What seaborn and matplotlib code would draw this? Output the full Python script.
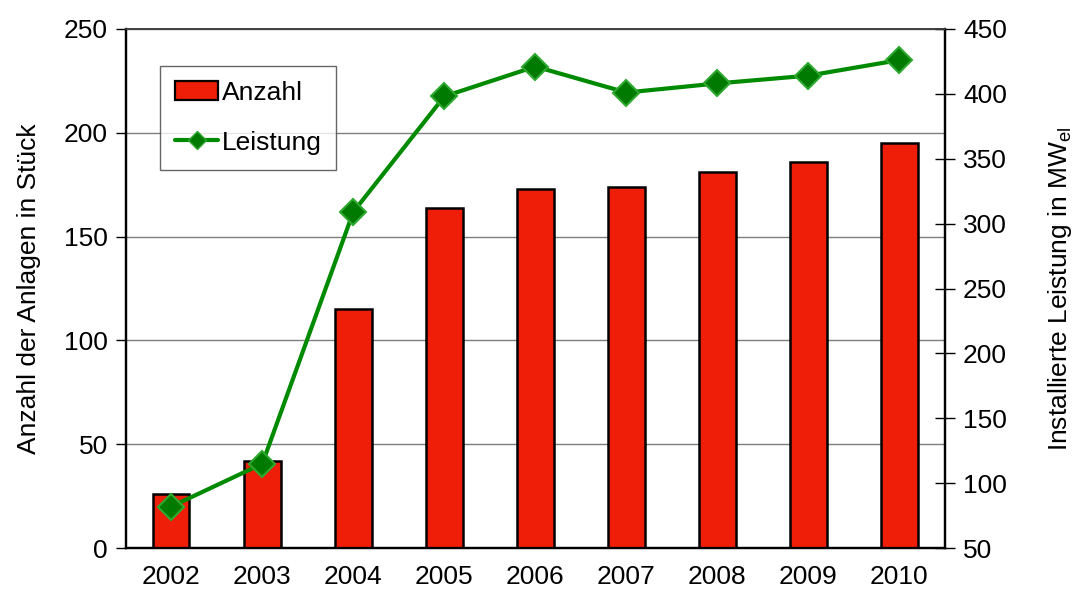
import numpy as np
import matplotlib
matplotlib.use("Agg")
import matplotlib.pyplot as plt
from matplotlib.lines import Line2D
from matplotlib.patches import Patch
import seaborn as sns

# data
years = ["2002", "2003", "2004", "2005", "2006", "2007", "2008", "2009", "2010"]
anzahl = [26, 42, 115, 164, 173, 174, 181, 186, 195]
leistung = [82, 115, 309, 398, 421, 401, 408, 414, 426]

sns.set_style("white")
plt.rcParams["font.family"] = ["Liberation Sans", "DejaVu Sans"]
plt.rcParams["mathtext.fontset"] = "custom"
plt.rcParams["mathtext.rm"] = "Liberation Sans"
plt.rcParams["mathtext.it"] = "Liberation Sans"
plt.rcParams["text.color"] = "black"
plt.rcParams["axes.labelcolor"] = "black"
plt.rcParams["xtick.color"] = "black"
plt.rcParams["ytick.color"] = "black"

fs = 19

fig, ax = plt.subplots(figsize=(10.75, 5.9), dpi=100)
fig.subplots_adjust(left=0.117, right=0.879, bottom=0.071, top=0.951)

bar_color = "#EE1E08"
line_color = "#008A00"

sns.barplot(x=years, y=anzahl, ax=ax, color=bar_color, width=0.4,
            edgecolor="black", linewidth=1.8, saturation=1, zorder=3)
ax.set_ylim(0, 250)
ax.set_xlim(-0.5, len(years) - 0.5)
ax.set_yticks(np.arange(0, 251, 50))
ax.yaxis.grid(True, color="#7f7f7f", linewidth=1.0, zorder=0)
ax.set_axisbelow(True)
ax.set_xlabel("")
ax.set_ylabel("Anzahl der Anlagen in Stück", fontsize=fs, labelpad=16)
ax.tick_params(axis="y", direction="out", length=7, width=1, labelsize=fs, pad=6)
ax.tick_params(axis="x", which="major", length=0, labelsize=fs, pad=12)
ax.set_xticks(np.arange(-0.5, len(years), 1.0), minor=True)
ax.tick_params(axis="x", which="minor", direction="out", length=7, width=1)

ax2 = ax.twinx()
sns.lineplot(x=np.arange(len(years)), y=leistung, ax=ax2, color=line_color,
             linewidth=3, marker="D", markersize=13, markerfacecolor="#007A00",
             markeredgecolor="#2FA82F", markeredgewidth=1.5, zorder=4)
ax2.set_ylim(50, 450)
ax2.set_xlim(-0.5, len(years) - 0.5)
ax2.set_yticks(np.arange(50, 451, 50))
ax2.set_ylabel("Installierte Leistung in MW$_{\\mathrm{el}}$", fontsize=fs, labelpad=28)
ax2.tick_params(axis="y", direction="inout", length=14, width=1, labelsize=fs, pad=6)

for a in (ax, ax2):
    for side in ("left", "bottom", "right"):
        a.spines[side].set_color("black")
        a.spines[side].set_linewidth(1.6)
    a.spines["top"].set_color("#404040")
    a.spines["top"].set_linewidth(1.2)

handles = [
    Patch(facecolor=bar_color, edgecolor="black", linewidth=1.6),
    Line2D([0], [0], color=line_color, linewidth=3, marker="D", markersize=9,
           markerfacecolor="#007A00", markeredgecolor="#2FA82F"),
]
leg = ax2.legend(handles, ["Anzahl", "Leistung"], loc="upper left",
                 bbox_to_anchor=(0.0415, 0.929), fontsize=fs, frameon=True,
                 fancybox=False, edgecolor="#404040", labelspacing=0.98,
                 handlelength=1.65, handletextpad=0.12, borderpad=0.57,
                 borderaxespad=0)
leg.get_frame().set_linewidth(1.0)

fig.savefig("out.png", dpi=100)
